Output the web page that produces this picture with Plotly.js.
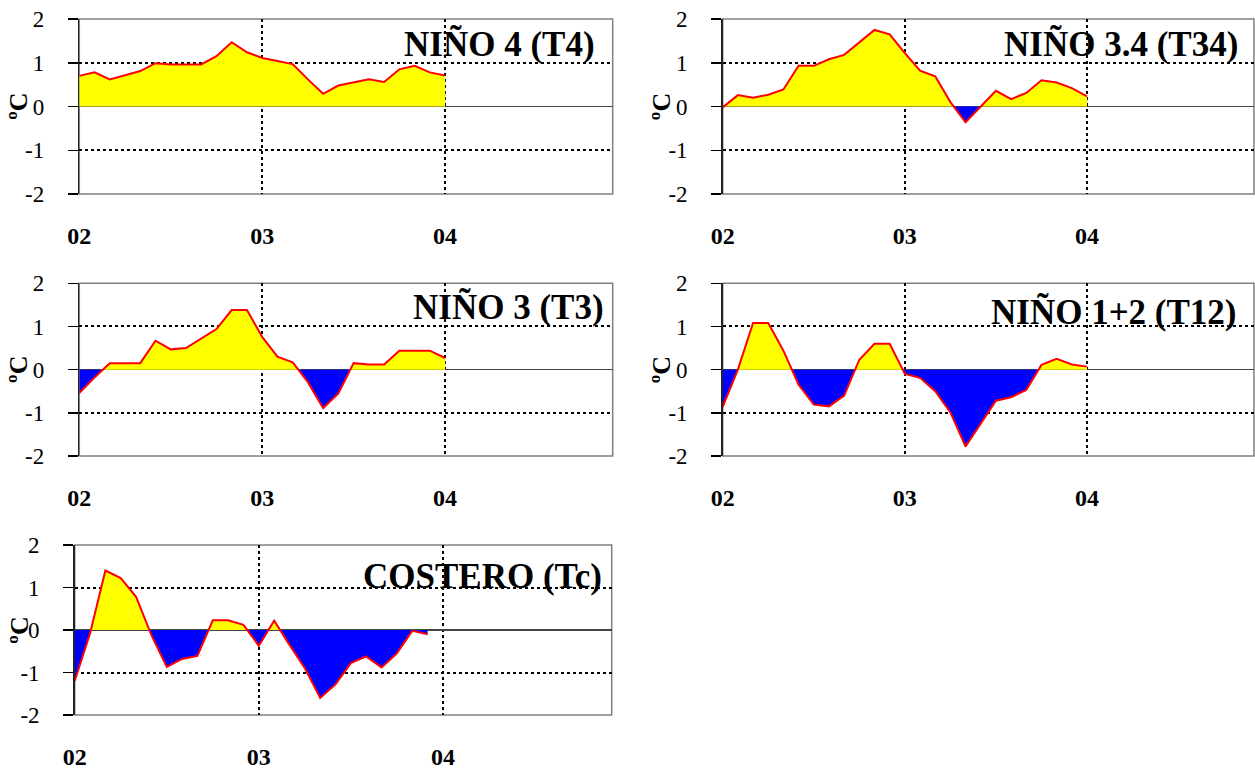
<!DOCTYPE html>
<html><head><meta charset="utf-8">
<script src="https://cdn.plot.ly/plotly-3.0.1.min.js"></script>
<style>html,body{margin:0;padding:0;background:#fff}#chart{width:1255px;height:769px}</style>
</head><body><div id="chart"></div>
<script>
// ---- data ----
const months = ['Ene-02','Feb-02','Mar-02','Abr-02','May-02','Jun-02','Jul-02','Ago-02','Sep-02','Oct-02','Nov-02','Dic-02',
                'Ene-03','Feb-03','Mar-03','Abr-03','May-03','Jun-03','Jul-03','Ago-03','Sep-03','Oct-03','Nov-03','Dic-03','Ene-04'];
const yearTickMonths = ['Ene-02','Ene-03','Ene-04'];
const yearTickText = ['02','03','04'];
const yTickVals = [-2,-1,0,1,2];
const yTickText = ['-2','-1','0','1','2'];

const T4  = [0.70,0.78,0.62,0.71,0.81,0.99,0.96,0.96,0.96,1.15,1.47,1.24,1.11,1.04,0.97,0.62,0.29,0.48,0.55,0.62,0.56,0.85,0.93,0.78,0.71];
const T34 = [-0.02,0.26,0.20,0.27,0.39,0.93,0.93,1.08,1.18,1.46,1.75,1.65,1.22,0.82,0.69,0.10,-0.36,0.00,0.36,0.17,0.31,0.60,0.55,0.42,0.23];
const T3  = [-0.54,-0.18,0.15,0.15,0.15,0.67,0.47,0.50,0.71,0.94,1.38,1.38,0.76,0.30,0.17,-0.29,-0.89,-0.55,0.15,0.12,0.12,0.44,0.44,0.44,0.27];
const T12 = [-0.86,0.00,1.08,1.08,0.44,-0.35,-0.81,-0.85,-0.60,0.23,0.60,0.60,-0.10,-0.19,-0.50,-0.99,-1.78,-1.26,-0.72,-0.64,-0.47,0.11,0.25,0.12,0.07];
const Tc  = [-1.20,-0.08,1.40,1.22,0.78,-0.12,-0.87,-0.68,-0.61,0.23,0.23,0.12,-0.37,0.22,-0.35,-0.90,-1.60,-1.28,-0.78,-0.62,-0.88,-0.55,-0.02,-0.10];

const panelTitles = ['NIÑO 4 (T4)','NIÑO 3.4 (T34)','NIÑO 3 (T3)','NIÑO 1+2 (T12)','COSTERO (Tc)'];
const series = [T4, T34, T3, T12, Tc];
const yUnit = 'ºC';

// ---- layout geometry (pixels) ----
const W = 1255, H = 769;
const boxes = [
  {l:79.3, r:612.7, t:19,    b:194,   titleY:1.41, titleShift:-16, unitShift:-61},
  {l:722.7,r:1254,  t:19,    b:194,   titleY:1.41, titleShift:-14, unitShift:-61},
  {l:79.3, r:612.7, t:283.3, b:456,   titleY:1.44, titleShift:-7,  unitShift:-61},
  {l:722.7,r:1254,  t:283.3, b:456,   titleY:1.33, titleShift:-15, unitShift:-61},
  {l:74.7, r:611.7, t:545,   b:715,   titleY:1.27, titleShift:-8,  unitShift:-56}
];

const serif = 'Liberation Serif, Times New Roman, serif';
const monthPos = m => months.indexOf(m);

function splitSigns(vals){
  const x = [], pos = [], neg = [];
  for (let i = 0; i < vals.length; i++){
    const v = vals[i];
    x.push(monthPos(months[i])); pos.push(Math.max(v,0)); neg.push(Math.min(v,0));
    if (i < vals.length-1){
      const w = vals[i+1];
      if (v*w < 0){
        const xc = i + v/(v-w);
        x.push(xc); pos.push(0); neg.push(0);
      }
    }
  }
  return {x, pos, neg};
}

const data = [], layout = {
  width: W, height: H, margin:{l:0,r:0,t:0,b:0},
  paper_bgcolor:'#fff', plot_bgcolor:'rgba(0,0,0,0)', showlegend:false,
  annotations: [], shapes: []
};

series.forEach((vals, k) => {
  const n = k === 0 ? '' : String(k+1);
  const xa = 'x'+n, ya = 'y'+n;
  const s = splitSigns(vals);
  data.push({x:s.x, y:s.pos, xaxis:xa, yaxis:ya, type:'scatter', mode:'lines',
             line:{width:0}, fill:'tozeroy', fillcolor:'#FFFF00', hoverinfo:'skip'});
  data.push({x:s.x, y:s.neg, xaxis:xa, yaxis:ya, type:'scatter', mode:'lines',
             line:{width:0}, fill:'tozeroy', fillcolor:'#0000FF', hoverinfo:'skip'});
  data.push({x:vals.map((_,i)=>monthPos(months[i])), y:vals, xaxis:xa, yaxis:ya, type:'scatter', mode:'lines',
             line:{color:'#FF0000', width:2}, name:panelTitles[k]});

  const b = boxes[k];
  layout['xaxis'+n] = {
    domain:[b.l/W, b.r/W], anchor:ya, range:[0,35], fixedrange:true,
    tickmode:'array', tickvals:yearTickMonths.map(monthPos), ticktext:yearTickText,
    ticks:'', ticklabelstandoff:25,
    tickfont:{family:serif, size:24, weight:'bold', color:'#000'},
    showgrid:true, gridcolor:'#000', gridwidth:2, griddash:'3px,3px',
    zeroline:false, showline:false
  };
  layout['yaxis'+n] = {
    domain:[1-b.b/H, 1-b.t/H], anchor:xa, range:[-2,2], fixedrange:true,
    tickmode:'array', tickvals:yTickVals, ticktext:yTickText,
    ticks:'outside', ticklen:10, tickwidth:1.5, tickcolor:'#000', ticklabelstandoff:19,
    tickfont:{family:serif, size:23, color:'#000'},
    showgrid:true, gridcolor:'#000', gridwidth:2, griddash:'3px,3px',
    zeroline:true, zerolinecolor:'#444', zerolinewidth:1.3,
    showline:true, linecolor:'#222', linewidth:1.5
  };
  // plot area border (grey), below the dotted grid
  layout.shapes.push({type:'rect', xref:xa+' domain', yref:ya+' domain', x0:0, x1:1, y0:0, y1:1,
                      line:{color:'#808080', width:1.5}, layer:'below'});
  layout.annotations.push({text:'<b>'+panelTitles[k]+'</b>', xref:xa+' domain', x:1, xanchor:'right', xshift:b.titleShift,
                           yref:ya, y:b.titleY, yanchor:'middle', showarrow:false,
                           font:{family:serif, size:35, color:'#000'}});
  layout.annotations.push({text:'<b>'+yUnit+'</b>', xref:xa+' domain', x:0, xanchor:'center', xshift:b.unitShift,
                           yref:ya, y:0, yanchor:'middle', showarrow:false, textangle:-90,
                           font:{family:serif, size:26, color:'#000'}});
});

Plotly.newPlot('chart', data, layout, {staticPlot:true, displayModeBar:false});
</script></body></html>
